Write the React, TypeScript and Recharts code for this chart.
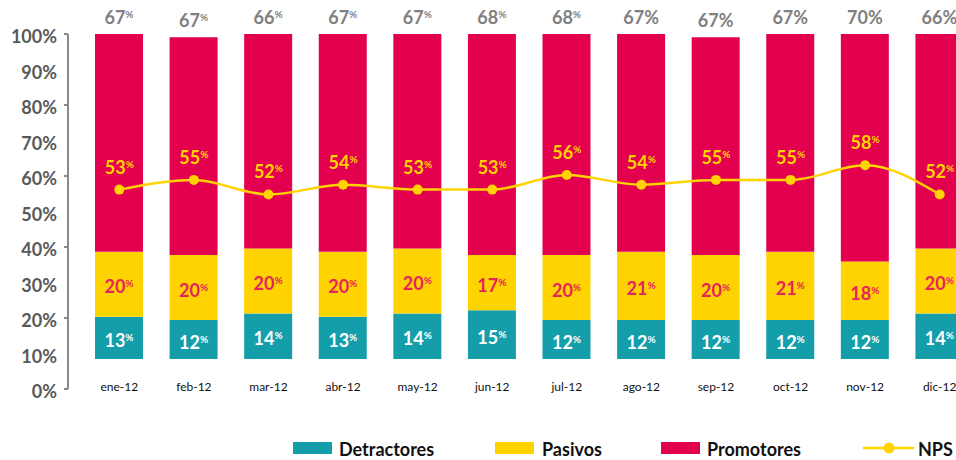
import React from 'react';
import { Bar, ComposedChart, LabelList, Line, XAxis, YAxis } from 'recharts';

const months = ['ene-12', 'feb-12', 'mar-12', 'abr-12', 'may-12', 'jun-12', 'jul-12', 'ago-12', 'sep-12', 'oct-12', 'nov-12', 'dic-12'];
const detractores = [13, 12, 14, 13, 14, 15, 12, 12, 12, 12, 12, 14];
const pasivos = [20, 20, 20, 20, 20, 17, 20, 21, 20, 21, 18, 20];
const promotores = [67, 67, 66, 67, 67, 68, 68, 67, 67, 67, 70, 66];
const nps = [53, 55, 52, 54, 53, 53, 56, 54, 55, 55, 58, 52];
const yTicks = [0, 10, 20, 30, 40, 50, 60, 70, 80, 90, 100];

const TEAL = '#139EAA';
const YELLOW = '#FFD300';
const CRIMSON = '#E2004F';
const FONT = 'Lato, "Open Sans", sans-serif';

const data = months.map((m, i) => ({
  month: m,
  detractores: detractores[i],
  pasivos: pasivos[i],
  promotores: promotores[i],
  nps: nps[i],
}));

// big number with a small raised "%"
const Pct = ({ x, y, value, fill, small = true }: any) => (
  <text x={x} y={y} textAnchor="middle" fill={fill} fontFamily={FONT} fontWeight={700} fontSize={18}>
    <tspan>{value}</tspan>
    {small ? (
      <tspan fontSize={10} dy={-6}>%</tspan>
    ) : (
      <tspan>%</tspan>
    )}
  </text>
);

const segmentLabel = (fill: string) => (props: any) => {
  const { x, y, width, height, value } = props;
  return <Pct x={x + width / 2} y={y + height / 2 + 9} value={value} fill={fill} />;
};

const topLabel = (props: any) => {
  const { x, y, width, value, index } = props;
  return <Pct x={x + width / 2} y={y - 10} value={value} fill="#808080" small={index < 7} />;
};

const npsLabel = (props: any) => {
  const { x, y, value } = props;
  return <Pct x={x} y={y - 16} value={value} fill={YELLOW} />;
};

const YTick = ({ x, y, payload }: any) => (
  <g>
    {payload.value % 20 === 0 && (
      <line x1={x - 4} x2={x} y1={y} y2={y} stroke="#898989" strokeWidth={2} />
    )}
    <text x={x - 11} y={y + 9} textAnchor="end" fill="#595959" fontFamily={FONT} fontWeight={700} fontSize={18}>
      {payload.value}%
    </text>
  </g>
);

const XTick = ({ x, y, payload }: any) => (
  <text x={x} y={y + 2} textAnchor="middle" fill="#111" fontFamily={FONT} fontSize={12}>
    {payload.value}
  </text>
);

const legendItems = [
  { label: 'Detractores', color: TEAL, left: 293, textLeft: 339 },
  { label: 'Pasivos', color: YELLOW, left: 495, textLeft: 542 },
  { label: 'Promotores', color: CRIMSON, left: 661, textLeft: 707 },
];

const textStyle: React.CSSProperties = {
  position: 'absolute',
  top: 438,
  fontFamily: FONT,
  fontWeight: 700,
  fontSize: 18,
  color: '#111',
  lineHeight: '22px',
  whiteSpace: 'nowrap',
};

export default function App() {
  return (
    <div style={{ position: 'absolute', left: 0, top: 0, width: 956, height: 460, overflow: 'hidden', background: '#fff' }}>
      <ComposedChart
        width={980}
        height={460}
        data={data}
        margin={{ top: 34, right: 3, bottom: 0, left: 0 }}
        barSize={48}
      >
        <XAxis
          dataKey="month"
          height={71}
          axisLine={false}
          tickLine={false}
          tickSize={0}
          tickMargin={0}
          padding={{ left: 14, right: 0 }}
          tick={<XTick />}
          interval={0}
        />
        <YAxis
          yAxisId="axis"
          width={68}
          type="number"
          domain={[0, 100]}
          allowDataOverflow
          ticks={yTicks}
          interval={0}
          tickSize={0}
          tickMargin={0}
          tickLine={false}
          axisLine={{ stroke: '#898989', strokeWidth: 2 }}
          tick={<YTick />}
        />
        <YAxis yAxisId="bars" hide type="number" domain={[-9.2, 100]} allowDataOverflow />
        <YAxis yAxisId="nps" hide type="number" domain={[12, 85]} allowDataOverflow />
        <Bar yAxisId="bars" dataKey="detractores" stackId="a" fill={TEAL} isAnimationActive={false}>
          <LabelList dataKey="detractores" content={segmentLabel('#ffffff')} />
        </Bar>
        <Bar yAxisId="bars" dataKey="pasivos" stackId="a" fill={YELLOW} isAnimationActive={false}>
          <LabelList dataKey="pasivos" content={segmentLabel('#E5245E')} />
        </Bar>
        <Bar yAxisId="bars" dataKey="promotores" stackId="a" fill={CRIMSON} isAnimationActive={false}>
          <LabelList dataKey="promotores" content={topLabel} />
        </Bar>
        <Line
          yAxisId="nps"
          type="monotone"
          dataKey="nps"
          stroke={YELLOW}
          strokeWidth={2.5}
          dot={{ r: 5, fill: YELLOW, stroke: 'none' }}
          activeDot={false}
          isAnimationActive={false}
        >
          <LabelList dataKey="nps" content={npsLabel} />
        </Line>
      </ComposedChart>

      {legendItems.map((it) => (
        <React.Fragment key={it.label}>
          <div style={{ position: 'absolute', left: it.left, top: 442, width: 39, height: 12, background: it.color }} />
          <div style={{ ...textStyle, left: it.textLeft }}>{it.label}</div>
        </React.Fragment>
      ))}
      <svg style={{ position: 'absolute', left: 860, top: 440 }} width={60} height={16}>
        <line x1={3} x2={54} y1={8} y2={8} stroke={YELLOW} strokeWidth={2.5} />
        <circle cx={29} cy={8} r={5.5} fill={YELLOW} />
      </svg>
      <div style={{ ...textStyle, left: 918 }}>NPS</div>
    </div>
  );
}
